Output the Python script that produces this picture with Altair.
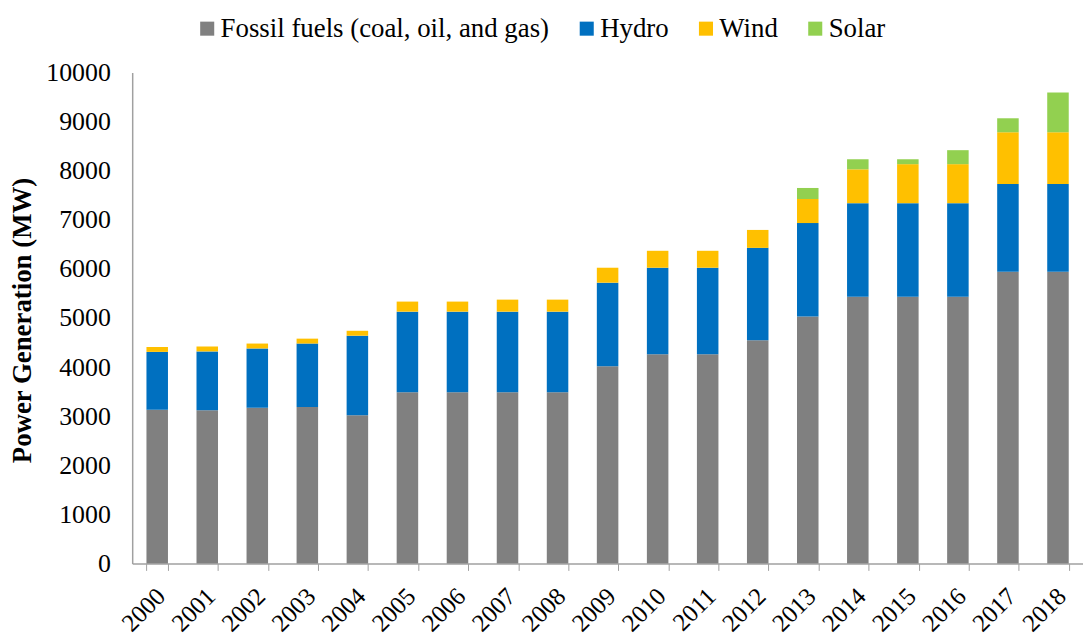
import altair as alt
import pandas as pd

years = [str(y) for y in range(2000, 2019)]
series = ["Fossil fuels (coal, oil, and gas)", "Hydro", "Wind", "Solar"]
colors = ["#808080", "#0070C0", "#FFC000", "#92D050"]

fossil = [3130, 3120, 3170, 3185, 3020, 3490, 3490, 3490, 3490, 4020, 4260, 4260, 4545, 5030, 5435, 5435, 5435, 5945, 5945]
hydro = [1180, 1200, 1210, 1295, 1620, 1640, 1640, 1640, 1640, 1700, 1765, 1765, 1885, 1905, 1905, 1905, 1905, 1785, 1785]
wind = [100, 100, 100, 100, 100, 205, 205, 245, 245, 305, 345, 345, 365, 490, 690, 795, 795, 1055, 1055]
solar = [0, 0, 0, 0, 0, 0, 0, 0, 0, 0, 0, 0, 0, 225, 205, 100, 285, 285, 810]

rows = []
for i, y in enumerate(years):
    for k, (name, vals) in enumerate(zip(series, [fossil, hydro, wind, solar])):
        rows.append({"Year": y, "Source": name, "MW": vals[i], "order": k})
df = pd.DataFrame(rows)

FONT = "Liberation Serif"

chart = (
    alt.Chart(df)
    .mark_bar()
    .encode(
        x=alt.X(
            "Year:N",
            sort=years,
            scale=alt.Scale(paddingInner=0.57, paddingOuter=0.285),
            axis=alt.Axis(
                title=None,
                labelAngle=-45,
                labelFont=FONT,
                labelFontSize=25,
                labelColor="#000000",
                labelPadding=13,
                labelOffset=-5,
                tickBand="extent",
                tickSize=7,
                tickColor="#A0A0A0",
                domainColor="#A0A0A0",
                domainWidth=1.5,
                grid=False,
            ),
        ),
        y=alt.Y(
            "MW:Q",
            stack="zero",
            scale=alt.Scale(domain=[0, 10000], nice=False),
            axis=alt.Axis(
                title="Power Generation (MW)",
                values=list(range(0, 10001, 1000)),
                format="d",
                labelFont=FONT,
                labelFontSize=26,
                labelColor="#000000",
                labelPadding=22,
                ticks=False,
                tickSize=0,
                domainColor="#A0A0A0",
                domainWidth=1.5,
                grid=False,
                titleFont=FONT,
                titleFontSize=27,
                titleFontWeight="bold",
                titleColor="#000000",
                titleAngle=-90,
                titleAlign="center",
                titleBaseline="middle",
                titleX=-110,
                titleY=249,
            ),
        ),
        color=alt.Color(
            "Source:N",
            sort=series,
            scale=alt.Scale(domain=series, range=colors),
            legend=alt.Legend(
                title=None,
                orient="none",
                direction="horizontal",
                legendX=62,
                legendY=-58,
                symbolType="square",
                symbolSize=200,
                symbolStrokeWidth=0,
                labelFont=FONT,
                labelFontSize=27,
                labelColor="#000000",
                labelOffset=0,
                labelLimit=0,
                columnPadding=24,
            ),
        ),
        order=alt.Order("order:Q", sort="ascending"),
    )
    .properties(
        width=957,
        height=494,
        autosize=alt.AutoSizeParams(type="none"),
        padding={"left": 125, "top": 63, "right": 0, "bottom": 72},
    )
    .configure_view(stroke=None)
)

chart.save("out.html", embed_options={"renderer": "svg", "actions": False})
